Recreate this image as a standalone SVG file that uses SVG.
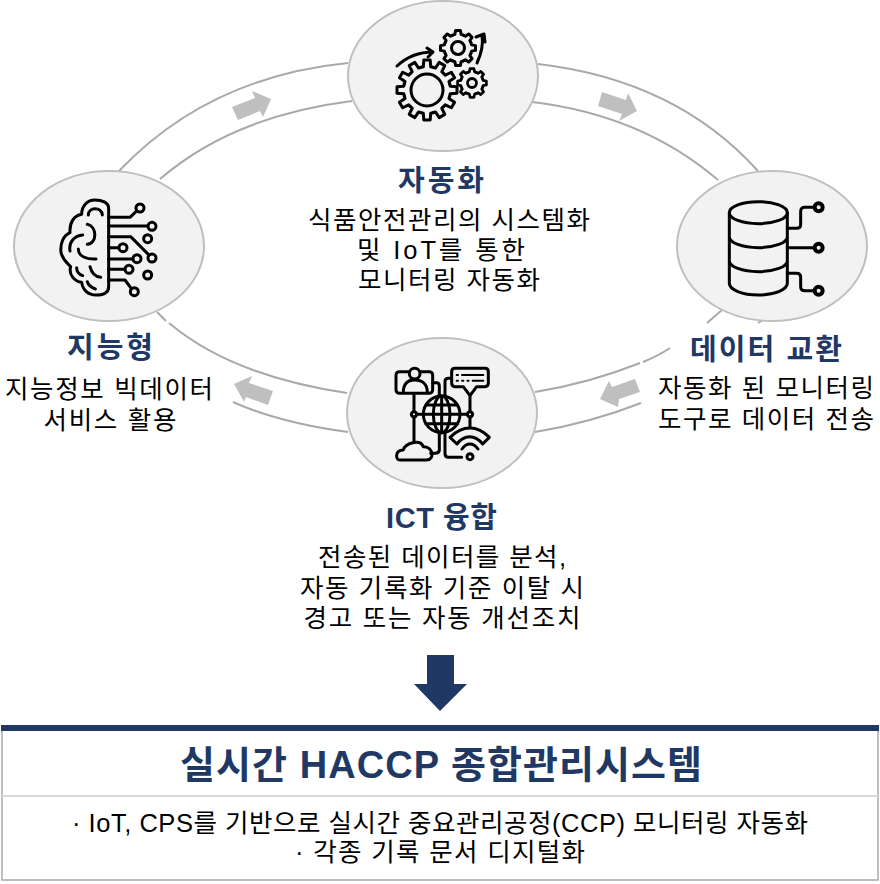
<svg xmlns="http://www.w3.org/2000/svg" xmlns:xlink="http://www.w3.org/1999/xlink" width="880" height="884" viewBox="0 0 880 884">
<style>
text{font-family:"Liberation Sans","Noto Sans CJK KR",sans-serif;text-anchor:middle;fill:#000;font-size:25.5px}
.t{font-weight:700;fill:#1f3864;font-size:29px}
.h{font-weight:700;fill:#1f3864;font-size:38px}
.ring{fill:none;stroke:#a9a9a9;stroke-width:2}
.flow{fill:#bfbfbf}
.node{fill:#f2f2f2;stroke:#bfbfbf;stroke-width:2}
.ic{fill:none;stroke:#000;stroke-width:9;stroke-linecap:round;stroke-linejoin:round}
.ig{fill:none;stroke:#000;stroke-width:3;stroke-linecap:round;stroke-linejoin:round}
</style>
<defs>
<path id="tb" d="M-6.08-22.7L-3.7-23.2L-3.2-30H3.2L3.7-23.2L6.08-22.7"/>
<path id="ts" d="M-5.36-12.9L-3.15-13.6L-2.4-17.5H2.4L3.15-13.6L5.36-12.9"/>
</defs>
<g id="connectors">
<path class="ring" d="M119 171Q208 77 348 63"/>
<path class="ring" d="M160 179Q233 116 352 101"/>
<path class="ring" d="M538 64Q676 80 758 171"/>
<path class="ring" d="M532 102Q642 115 718 180"/>
<path class="ring" d="M157 312L166 321"/>
<path class="ring" d="M169 323Q232 376 347 393"/>
<path class="ring" d="M233 402Q280 423 348 432"/>
<path class="ring" d="M535 392Q590 383 640 363"/>
<path class="ring" d="M643 362Q658 356 670 348"/>
<path class="ring" d="M707 323L722 310"/>
<path class="ring" d="M535 432Q590 423 641 403"/>
<path class="ring" d="M758 323L763 320"/>
<polygon class="flow" points="232,107 238,120 260,111 263,117 271,99 252,91 255,98"/>
<polygon class="flow" points="602,92 598,106 622,114 619,121 637,111 628,93 626,100"/>
<polygon class="flow" points="273,391 268,405 246,397 244,402 234,384 252,376 249,383"/>
<polygon class="flow" points="635,379 640,392 619,399 618,407 600,399 609,381 612,387"/>
</g>
<g id="node-automation">
<ellipse class="node" cx="443" cy="76" rx="95" ry="75"/>
<g class="ig">
<g transform="translate(427 90)"><use xlink:href="#tb"/><use xlink:href="#tb" transform="rotate(30)"/><use xlink:href="#tb" transform="rotate(60)"/><use xlink:href="#tb" transform="rotate(90)"/><use xlink:href="#tb" transform="rotate(120)"/><use xlink:href="#tb" transform="rotate(150)"/><use xlink:href="#tb" transform="rotate(180)"/><use xlink:href="#tb" transform="rotate(210)"/><use xlink:href="#tb" transform="rotate(240)"/><use xlink:href="#tb" transform="rotate(270)"/><use xlink:href="#tb" transform="rotate(300)"/><use xlink:href="#tb" transform="rotate(330)"/><circle r="16"/></g>
<g transform="translate(458 48)"><use xlink:href="#ts"/><use xlink:href="#ts" transform="rotate(45)"/><use xlink:href="#ts" transform="rotate(90)"/><use xlink:href="#ts" transform="rotate(135)"/><use xlink:href="#ts" transform="rotate(180)"/><use xlink:href="#ts" transform="rotate(225)"/><use xlink:href="#ts" transform="rotate(270)"/><use xlink:href="#ts" transform="rotate(315)"/><circle r="6.5"/></g>
<g transform="translate(472 83) scale(.82)" stroke-width="3.4"><use xlink:href="#ts"/><use xlink:href="#ts" transform="rotate(45)"/><use xlink:href="#ts" transform="rotate(90)"/><use xlink:href="#ts" transform="rotate(135)"/><use xlink:href="#ts" transform="rotate(180)"/><use xlink:href="#ts" transform="rotate(225)"/><use xlink:href="#ts" transform="rotate(270)"/><use xlink:href="#ts" transform="rotate(315)"/><circle r="5.5"/></g>
<path d="M397 66Q412 52 433 52M427 48L433 52L428 57"/>
<path d="M477 63Q484 48 482 35M476 37L484 34L485 42"/>
</g>
<text class="t" x="441" y="191" textLength="86">자동화</text>
<text x="449" y="229" textLength="282">식품안전관리의 시스템화</text>
<text x="441" y="259" textLength="168">및 IoT를 통한</text>
<text x="449" y="289" textLength="182">모니터링 자동화</text>
</g>
<g id="node-intelligence">
<ellipse class="node" cx="109" cy="246" rx="95" ry="75"/>
<g class="ic" transform="translate(10 165) scale(.3333)">
<path d="M296 365V130C296 112 275 105 255 105C232 105 215 122 215 148C192 152 178 172 180 203C160 212 150 235 153 262C158 285 172 295 182 305C175 330 195 350 215 352C218 375 235 390 258 390C280 390 296 385 296 365Z"/>
<path d="M235 150C235 125 275 125 277 150M232 178C262 185 262 235 232 238M218 210C195 212 175 230 180 258M205 252C205 275 230 283 258 282M240 305C245 325 255 335 272 337M200 308C200 320 208 328 218 332M232 350C235 362 245 368 256 372"/>
<path d="M296 157H360L378 140M296 183H414M296 215H362L415 268M296 248H326M296 282H368M296 313H345M296 345H345L362 368"/>
<circle cx="390" cy="129" r="12"/><circle cx="426" cy="184" r="12"/><circle cx="413" cy="221" r="12"/><circle cx="426" cy="279" r="12"/><circle cx="339" cy="248" r="12"/><circle cx="381" cy="281" r="12"/><circle cx="357" cy="313" r="12"/><circle cx="413" cy="330" r="12"/><circle cx="373" cy="380" r="12"/>
</g>
<text class="t" x="110" y="358" textLength="86">지능형</text>
<text x="109" y="398" textLength="208">지능정보 빅데이터</text>
<text x="110" y="429" textLength="133">서비스 활용</text>
</g>
<g id="node-data">
<ellipse class="node" cx="772" cy="246" rx="95" ry="75"/>
<g class="ic" transform="translate(670 165) scale(.3333)">
<ellipse cx="265" cy="143" rx="87" ry="33"/>
<path d="M178 143V355A87 35 0 0 0 352 355V143M178 215A87 33 0 0 0 352 215M178 287A87 33 0 0 0 352 287"/>
<path d="M352 190H380Q392 190 392 178V140Q392 127 405 127H432M352 248H432M352 325H380Q392 325 392 337V365Q392 377 405 377H432"/>
<circle cx="446" cy="127" r="12" stroke-width="12"/><circle cx="446" cy="248" r="12" stroke-width="12"/><circle cx="446" cy="377" r="12" stroke-width="12"/>
</g>
<text class="t" x="766" y="360" textLength="152">데이터 교환</text>
<text x="766" y="397" textLength="216">자동화 된 모니터링</text>
<text x="766" y="428" textLength="216">도구로 데이터 전송</text>
</g>
<g id="node-ict">
<ellipse class="node" cx="442" cy="413" rx="95" ry="75"/>
<g class="ic" transform="translate(340 335) scale(.3333)" stroke-width="10">
<rect x="168" y="110" width="110" height="65" rx="10"/>
<circle cx="224" cy="116" r="16" fill="#f2f2f2"/>
<path d="M190 172C190 145 205 135 224 135C245 135 262 145 262 172M222 178V230M222 246V320M180 375C165 375 165 345 190 345C195 325 240 310 250 335C280 335 285 375 260 375Z"/>
<circle cx="222" cy="238" r="8"/><circle cx="390" cy="238" r="8"/>
<circle cx="305" cy="238" r="55"/><ellipse cx="305" cy="238" rx="25" ry="55"/>
<path d="M305 183V293M250 238H360M258 210H352M258 266H352M230 238H250M360 238H382"/>
<path d="M345 100H435Q445 100 445 110V145Q445 155 435 155H410L390 182L370 155H345Q335 155 335 145V110Q335 100 345 100ZM390 182V230M390 246V283"/>
<path d="M350 120H354M366 120H430M350 137H354M366 137H370M382 137H386M398 137H430" stroke-width="6"/>
<path d="M335 130H325Q315 130 315 140V183M278 143H290Q298 143 298 153V183M298 293V345Q298 355 285 355H272M315 293V355Q315 367 325 367H365"/>
<path d="M330 307C368 270 412 270 448 307L428 327C405 298 373 298 351 327ZM366 342C380 322 400 322 414 342" fill="#f2f2f2"/>
<circle cx="390" cy="365" r="9"/>
</g>
<text class="t" x="441.5" y="528" textLength="111">ICT 융합</text>
<text x="442" y="566" textLength="248">전송된 데이터를 분석,</text>
<text x="442" y="597" textLength="284">자동 기록화 기준 이탈 시</text>
<text x="442" y="627" textLength="277">경고 또는 자동 개선조치</text>
</g>
<g id="down-arrow">
<polygon fill="#1f3864" points="427,655 454,655 454,684 467,684 440,711 414,684 427,684"/>
</g>
<g id="node-haccp">
<rect x="2" y="728" width="876" height="152" fill="#fff" stroke="#a9a9a9" stroke-width="1.5"/>
<rect x="1" y="725" width="878" height="6" fill="#1f3864"/>
<rect x="2" y="795" width="876" height="2" fill="#d9d9d9"/>
<text class="h" x="441" y="778" textLength="522">실시간 HACCP 종합관리시스템</text>
<text x="440" y="832" textLength="736">· IoT, CPS를 기반으로 실시간 중요관리공정(CCP) 모니터링 자동화</text>
<text x="440" y="861" textLength="290">· 각종 기록 문서 디지털화</text>
</g>
</svg>
